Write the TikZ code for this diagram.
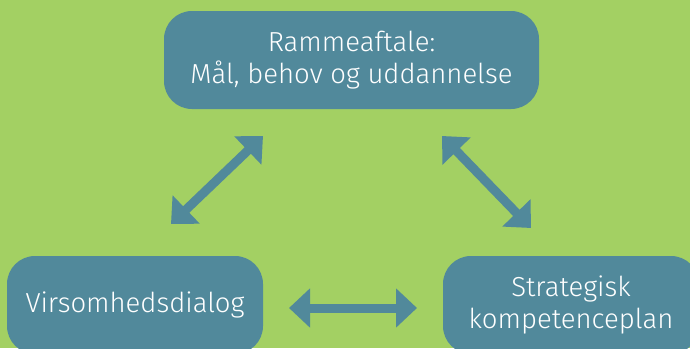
\documentclass[tikz,border=0pt]{standalone}
\usepackage{fontspec}
\setmainfont{Fira Sans Light}
\usetikzlibrary{arrows.meta}
\definecolor{bggreen}{RGB}{163,208,99}
\definecolor{boxblue}{RGB}{81,137,155}
\tikzset{
  box/.style={fill=boxblue, rounded corners=28pt, text=white, align=center,
    font=\fontsize{27.5}{32}\selectfont, inner sep=0pt},
  arr/.style={draw=boxblue, line width=9pt,
    {Triangle[length=21pt,width=38pt]}-{Triangle[length=21pt,width=38pt]}}
}
\begin{document}
\begin{tikzpicture}[x=1pt,y=-1pt]
\useasboundingbox (0,0) rectangle (690,348);
\clip (0,0) rectangle (690,348);
\fill[bggreen] (0,0) rectangle (690,348);
\node[box, minimum width=375pt, minimum height=98pt] (top) at (351.5,60) {Rammeaftale:\\Mål, behov og uddannelse};
\node[box, minimum width=256pt, minimum height=98pt] (left) at (135,305) {Virsomhedsdialog};
\node[box, minimum width=256pt, minimum height=98pt] (right) at (571,305) {Strategisk\\kompetenceplan};
\coordinate (l1) at (171,224);
\coordinate (l2) at (263,136);
\coordinate (r1) at (442,136);
\coordinate (r2) at (531,228);
\coordinate (h1) at (289,308);
\coordinate (h2) at (417,308);
\draw[arr] (l1) -- (l2);
\draw[arr] (r1) -- (r2);
\draw[arr] (h1) -- (h2);
\end{tikzpicture}
\end{document}
